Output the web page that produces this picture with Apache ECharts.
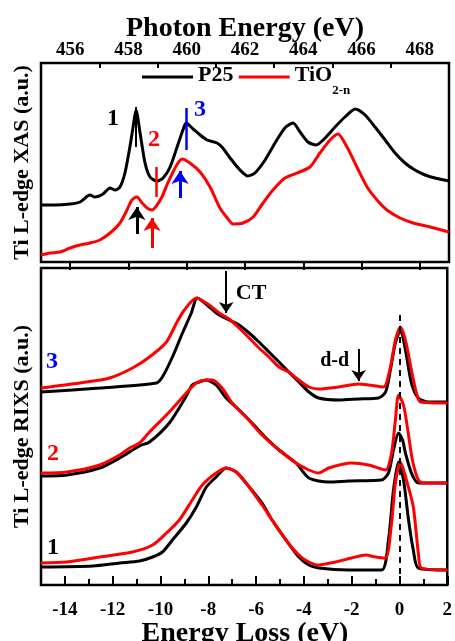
<!DOCTYPE html>
<html><head><meta charset="utf-8">
<script src="https://cdn.jsdelivr.net/npm/echarts@6/dist/echarts.min.js"></script>
<style>html,body{margin:0;padding:0;background:#fff;overflow:hidden;width:455px;height:641px}#c{width:455px;height:641px}</style>
</head><body><div id="c"></div>
<script>
// ---------- DATA ----------
// Top panel: Ti L-edge XAS vs photon energy (eV)
const p25XasE = [455.00,455.48,456.00,456.34,456.68,456.85,457.13,457.37,457.54,457.71,457.88,458.05,458.16,458.26,458.40,458.57,458.74,458.98,459.19,459.43,459.67,459.87,459.98,460.22,460.46,460.70,461.04,461.21,461.49,461.83,462.10,462.34,462.69,463.03,463.37,463.65,463.89,464.16,464.44,464.75,465.09,465.43,465.78,466.12,466.46,466.81,467.15,467.49,467.83,468.18,468.52,469.00];
const p25XasI = [0.57,0.57,0.58,0.60,0.67,0.65,0.68,0.74,0.72,0.75,0.89,1.15,1.35,1.52,1.29,0.99,0.85,0.81,0.84,0.95,1.15,1.32,1.39,1.33,1.27,1.22,1.19,1.15,1.04,0.92,0.86,0.89,1.02,1.19,1.34,1.39,1.30,1.20,1.17,1.24,1.35,1.45,1.53,1.47,1.35,1.22,1.09,0.99,0.92,0.87,0.84,0.81];
const tioXasE = [455.00,455.31,455.65,456.00,456.34,456.68,457.02,457.37,457.71,457.95,458.12,458.29,458.47,458.64,458.81,458.98,459.15,459.32,459.53,459.70,459.84,460.11,460.46,460.80,461.14,461.42,461.59,461.93,462.28,462.62,462.96,463.37,463.79,464.23,464.57,464.92,465.19,465.50,465.84,466.19,466.53,466.87,467.32,467.77,468.35,469.00];
const tioXasI = [0.07,0.09,0.10,0.14,0.17,0.19,0.22,0.29,0.39,0.52,0.62,0.65,0.59,0.54,0.52,0.57,0.65,0.77,0.90,0.99,1.03,0.99,0.90,0.75,0.54,0.43,0.38,0.39,0.45,0.59,0.72,0.84,0.89,0.95,1.09,1.22,1.28,1.15,0.95,0.75,0.62,0.52,0.44,0.39,0.35,0.30];

// Bottom panel: Ti L-edge RIXS vs energy loss (eV), spectra 3 (top), 2, 1 (bottom), vertically offset
const p25Rixs3L = [-15.0,-12.54,-10.17,-9.92,-9.50,-9.08,-8.71,-8.46,-7.96,-7.54,-7.13,-6.71,-6.29,-5.88,-5.46,-5.04,-4.63,-4.21,-3.79,-3.38,-2.54,-1.71,-0.88,-0.58,-0.38,-0.17,0.04,0.25,0.50,0.79,1.21,2.00];
const p25Rixs3I = [1.93,1.97,2.02,2.08,2.28,2.52,2.72,2.87,2.78,2.70,2.65,2.60,2.52,2.43,2.33,2.23,2.13,2.03,1.93,1.87,1.85,1.86,1.87,1.93,2.15,2.42,2.55,2.35,2.02,1.87,1.83,1.83];
const tioRixs3L = [-15.0,-13.38,-12.13,-11.17,-10.46,-9.75,-9.33,-9.00,-8.50,-7.96,-7.54,-7.13,-6.71,-6.29,-5.88,-5.46,-5.04,-4.63,-4.21,-3.79,-3.38,-2.54,-1.71,-1.29,-0.67,-0.38,-0.17,0.04,0.25,0.50,0.71,0.88,2.00];
const tioRixs3I = [1.97,2.02,2.07,2.17,2.28,2.43,2.62,2.75,2.87,2.80,2.72,2.66,2.57,2.47,2.37,2.28,2.18,2.13,2.05,1.98,1.96,1.98,2.01,2.00,1.98,2.18,2.45,2.58,2.45,2.15,1.92,1.83,1.82];
const p25Rixs2L = [-15.0,-13.92,-12.54,-11.71,-10.88,-10.46,-9.63,-8.92,-8.67,-8.38,-8.08,-7.67,-7.25,-6.71,-6.17,-5.58,-5.04,-4.33,-3.79,-2.96,-2.13,-0.75,-0.46,-0.25,-0.04,0.13,0.25,0.50,0.79,2.00];
const p25Rixs2I = [1.09,1.10,1.17,1.27,1.39,1.43,1.62,1.89,2.00,2.03,2.05,2.00,1.87,1.75,1.62,1.47,1.35,1.22,1.07,1.03,1.04,1.05,1.12,1.35,1.52,1.45,1.32,1.12,1.02,1.02];
const tioRixs2L = [-15.0,-13.92,-12.54,-11.71,-11.29,-10.88,-10.46,-9.63,-8.92,-8.50,-8.08,-7.83,-7.42,-7.00,-6.42,-5.75,-5.04,-4.33,-3.79,-3.38,-2.96,-2.00,-1.29,-0.58,-0.33,-0.17,-0.04,0.17,0.38,0.54,0.79,1.00,2.00];
const tioRixs2I = [1.12,1.13,1.20,1.30,1.37,1.42,1.53,1.73,1.92,2.02,2.05,2.05,1.97,1.82,1.68,1.50,1.35,1.22,1.15,1.12,1.17,1.22,1.20,1.15,1.32,1.65,1.90,1.80,1.50,1.25,1.05,1.02,1.02];
const p25Rixs1L = [-15.0,-12.83,-11.71,-10.88,-10.33,-9.92,-9.50,-8.92,-8.50,-8.08,-7.67,-7.25,-6.83,-6.42,-5.75,-5.33,-4.75,-4.21,-3.79,-3.38,-2.13,-0.75,-0.46,-0.25,-0.04,0.17,0.38,0.58,0.79,2.00];
const p25Rixs1I = [0.18,0.19,0.22,0.24,0.28,0.33,0.45,0.62,0.78,0.98,1.08,1.17,1.13,1.02,0.82,0.65,0.45,0.28,0.20,0.17,0.15,0.15,0.45,0.95,1.23,1.05,0.65,0.35,0.17,0.15];
const tioRixs1L = [-15.0,-13.92,-12.54,-11.17,-10.33,-9.75,-9.21,-8.67,-8.25,-7.67,-7.25,-6.83,-6.42,-5.75,-5.33,-4.75,-4.21,-3.79,-3.38,-2.67,-2.00,-1.42,-1.00,-0.58,-0.33,-0.17,0.04,0.29,0.58,0.79,0.92,2.00];
const tioRixs1I = [0.22,0.23,0.28,0.33,0.40,0.52,0.65,0.85,1.00,1.12,1.17,1.13,1.02,0.80,0.65,0.45,0.30,0.23,0.20,0.23,0.27,0.30,0.28,0.27,0.62,1.02,1.23,1.05,0.78,0.32,0.17,0.15];

// Tick labels
const topTickLabels = [456,458,460,462,464,466,468];
const topMinorTicks = [457,459,461,463,465,467];
const bottomTickLabels = [-14,-12,-10,-8,-6,-4,-2,0,2];
const bottomMinorTicks = [-13,-11,-9,-7,-5,-3,-1,1];
const seriesNames = ['P25','TiO2-n'];

// ---------- CHART ----------
const zip = (xs, ys) => xs.slice(0, Math.min(xs.length, ys.length)).map((x, i) => [x, ys[i]]);
const FONT = '"Liberation Serif", "DejaVu Serif", serif';
const BLACK = '#000000', RED = '#ff0000', BLUE = '#0000ff';

function line(name, xs, ys, color, xi, yi) {
  return {
    name, type: 'line', xAxisIndex: xi, yAxisIndex: yi,
    data: zip(xs, ys), showSymbol: false, symbol: 'none', smooth: 0.25,
    lineStyle: { color, width: 3 }, itemStyle: { color }, z: color === RED ? 3 : 2
  };
}
function seg(x1, y1, x2, y2, color, width, arrow, type) {
  const ls = { color, width, type: type || 'solid' };
  return [
    { coord: [x1, y1], symbol: 'none', lineStyle: ls },
    { coord: [x2, y2], symbol: arrow ? 'arrow' : 'none', symbolSize: arrow || 0, lineStyle: ls }
  ];
}
function txt(x, y, t, color, size) {
  return { coord: [x, y], name: t, label: { color, fontSize: size } };
}
const markPointBase = {
  symbol: 'circle', symbolSize: 1, itemStyle: { color: 'rgba(0,0,0,0)' },
  label: { show: true, position: 'inside', formatter: p => p.name, fontFamily: FONT, fontWeight: 'bold' },
  silent: true, animation: false
};

const chart = echarts.init(document.getElementById('c'), null, { renderer: 'canvas', width: 455, height: 641 });
const tickLabelStyle = { fontFamily: FONT, fontWeight: 'bold', fontSize: 19, color: BLACK };
const titleFont = 'bold 28px ' + FONT;

chart.setOption({
  animation: false,
  backgroundColor: '#ffffff',
  grid: [
    { left: 41, top: 63, width: 408, height: 199, show: true, borderColor: BLACK, borderWidth: 2.5, backgroundColor: 'transparent' },
    { left: 41, top: 268, width: 408, height: 317, show: true, borderColor: BLACK, borderWidth: 2.5, backgroundColor: 'transparent' }
  ],
  graphic: [
    { type: 'text', x: 245, y: 29, silent: true,
      style: { text: 'Photon Energy (eV)', font: titleFont, fill: BLACK, align: 'center', verticalAlign: 'middle' } },
    { type: 'text', x: 245, y: 634, silent: true,
      style: { text: 'Energy Loss (eV)', font: titleFont, fill: BLACK, align: 'center', verticalAlign: 'middle' } }
  ],
  legend: {
    data: seriesNames, left: 142, top: 64, padding: 0, icon: 'rect', itemWidth: 51, itemHeight: 3, itemGap: 2,
    textStyle: {
      fontFamily: FONT, fontWeight: 'bold', fontSize: 22, color: BLACK,
      rich: {
        m: { fontFamily: FONT, fontWeight: 'bold', fontSize: 22, color: BLACK, verticalAlign: 'top', padding: [7,0,0,0] },
        s: { fontFamily: FONT, fontWeight: 'bold', fontSize: 13, color: BLACK, verticalAlign: 'top', padding: [27,0,0,0] }
      }
    },
    formatter: n => n === 'TiO2-n' ? '{m|TiO}{s|2-n}' : '{m|' + n + '}{s| }'
  },
  xAxis: [
    { type: 'value', gridIndex: 0, position: 'top', min: 455, max: 469,
      axisLine: { show: false }, splitLine: { show: false },
      axisTick: { show: true, inside: true, length: 8, lineStyle: { color: BLACK, width: 2 }, customValues: topTickLabels },
      axisLabel: { show: true, margin: 3, customValues: topTickLabels, ...tickLabelStyle } },
    { type: 'value', gridIndex: 0, position: 'top', min: 455, max: 469,
      axisLine: { show: false }, splitLine: { show: false }, axisLabel: { show: false },
      axisTick: { show: true, inside: true, length: 5, lineStyle: { color: BLACK, width: 2 }, customValues: topMinorTicks } },
    { type: 'value', gridIndex: 1, position: 'bottom', min: -15, max: 2,
      axisLine: { show: false }, splitLine: { show: false },
      axisTick: { show: true, inside: true, length: 9, lineStyle: { color: BLACK, width: 2 }, customValues: bottomTickLabels },
      axisLabel: { show: true, margin: 16, customValues: bottomTickLabels, ...tickLabelStyle } },
    { type: 'value', gridIndex: 1, position: 'bottom', min: -15, max: 2,
      axisLine: { show: false }, splitLine: { show: false }, axisLabel: { show: false },
      axisTick: { show: true, inside: true, length: 6, lineStyle: { color: BLACK, width: 2 }, customValues: bottomMinorTicks } }
  ],
  yAxis: [
    { type: 'value', gridIndex: 0, min: 0, max: 1.99, axisLine: { show: false }, axisTick: { show: false },
      axisLabel: { show: false }, splitLine: { show: false },
      name: 'Ti L-edge XAS (a.u.)', nameLocation: 'middle', nameRotate: 90, nameGap: 8,
      nameTextStyle: { fontFamily: FONT, fontWeight: 'bold', fontSize: 22, color: BLACK } },
    { type: 'value', gridIndex: 1, min: 0, max: 3.17, axisLine: { show: false }, axisTick: { show: false },
      axisLabel: { show: false }, splitLine: { show: false },
      name: 'Ti L-edge RIXS (a.u.)', nameLocation: 'middle', nameRotate: 90, nameGap: 8,
      nameTextStyle: { fontFamily: FONT, fontWeight: 'bold', fontSize: 22, color: BLACK } }
  ],
  series: [
    line('P25', p25XasE, p25XasI, BLACK, 0, 0),
    line('TiO2-n', tioXasE, tioXasI, RED, 0, 0),
    line('P25', p25Rixs3L, p25Rixs3I, BLACK, 2, 1),
    line('TiO2-n', tioRixs3L, tioRixs3I, RED, 2, 1),
    line('P25', p25Rixs2L, p25Rixs2I, BLACK, 2, 1),
    line('TiO2-n', tioRixs2L, tioRixs2I, RED, 2, 1),
    line('P25', p25Rixs1L, p25Rixs1I, BLACK, 2, 1),
    line('TiO2-n', tioRixs1L, tioRixs1I, RED, 2, 1),
    { type: 'line', xAxisIndex: 0, yAxisIndex: 0, data: [], z: 5,
      markLine: { silent: true, animation: false, label: { show: false }, symbol: ['none', 'none'],
        data: [
          seg(458.26, 1.55, 458.26, 1.15, BLACK, 2),
          seg(458.95, 0.95, 458.95, 0.65, RED, 2.5),
          seg(459.98, 1.54, 459.98, 1.12, BLUE, 2.5),
          seg(458.29, 0.28, 458.29, 0.55, BLACK, 3, 13),
          seg(458.81, 0.14, 458.81, 0.44, RED, 3, 13),
          seg(459.77, 0.64, 459.77, 0.91, BLUE, 3, 13)
        ] },
      markPoint: { ...markPointBase, data: [
          txt(457.47, 1.43, '1', BLACK, 24),
          txt(458.88, 1.22, '2', RED, 24),
          txt(460.46, 1.52, '3', BLUE, 24)
        ] } },
    { type: 'line', xAxisIndex: 2, yAxisIndex: 1, data: [], z: 5,
      markLine: { silent: true, animation: false, label: { show: false }, symbol: ['none', 'none'],
        data: [
          seg(0, 2.70, 0, 0.02, BLACK, 2, 0, [6, 5]),
          seg(-7.25, 3.14, -7.25, 2.72, BLACK, 2, 11),
          seg(-1.71, 2.36, -1.71, 2.04, BLACK, 2, 11)
        ] },
      markPoint: { ...markPointBase, data: [
          txt(-14.54, 2.23, '3', BLUE, 24),
          txt(-14.50, 1.31, '2', RED, 24),
          txt(-14.50, 0.37, '1', BLACK, 24),
          txt(-6.21, 2.92, 'CT', BLACK, 22),
          txt(-2.71, 2.24, 'd-d', BLACK, 20)
        ] } }
  ]
});
</script></body></html>
